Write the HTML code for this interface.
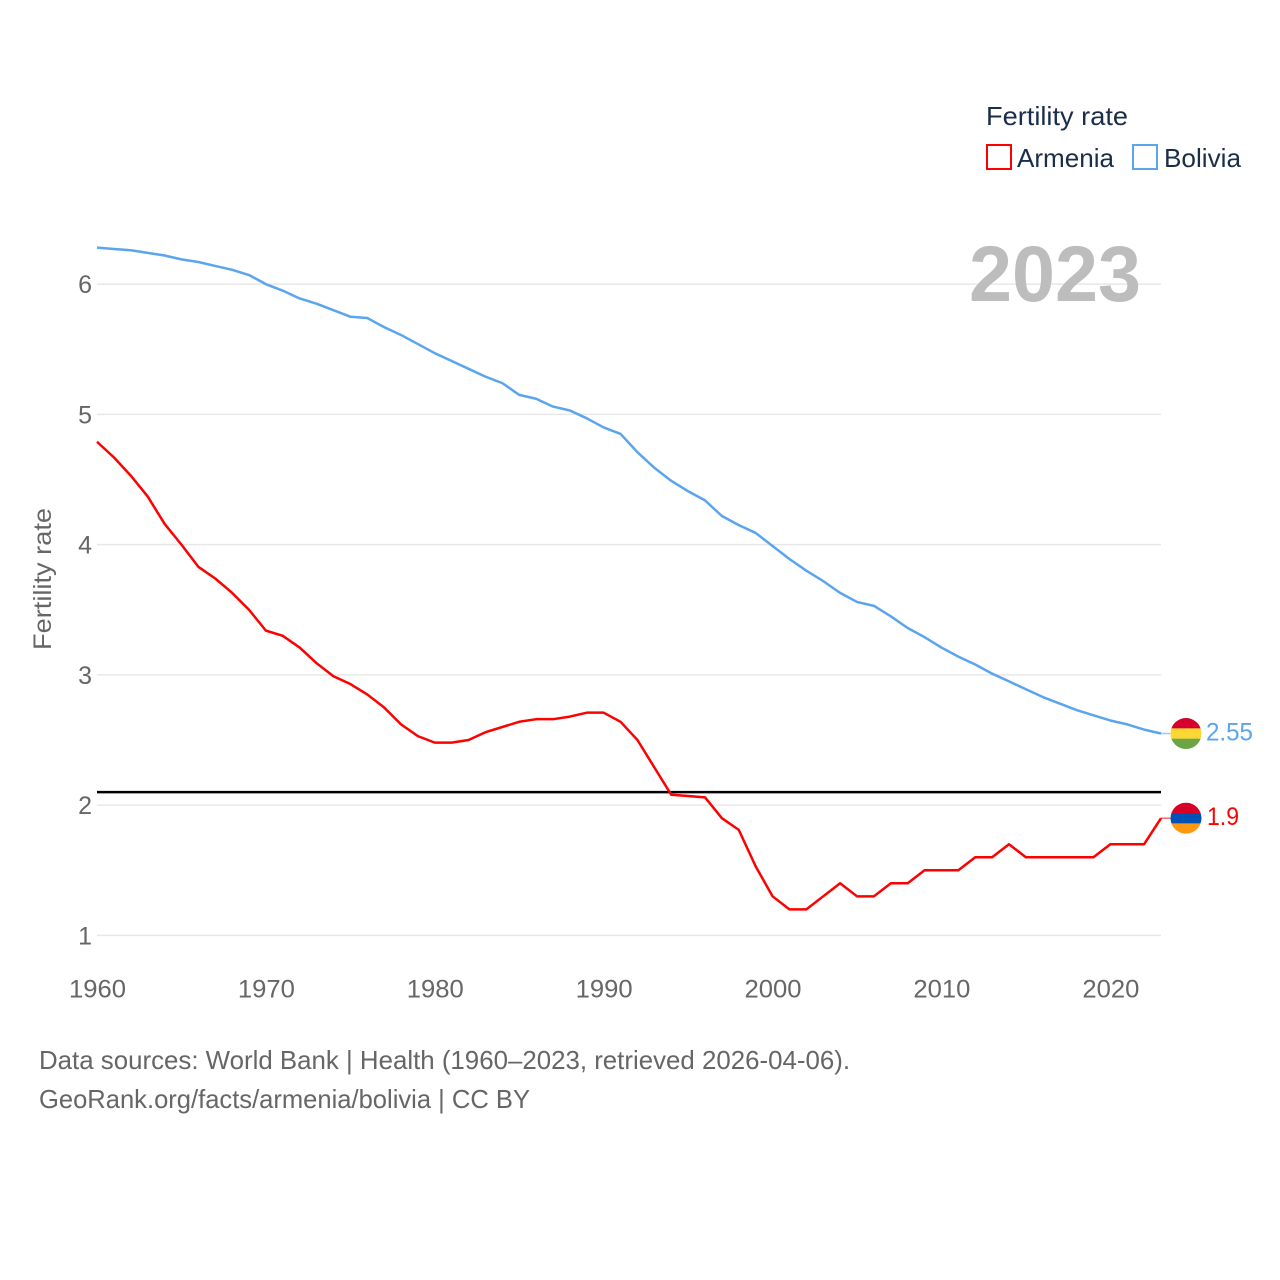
<!DOCTYPE html>
<html>
<head>
<meta charset="utf-8">
<title>Fertility rate: Armenia and Bolivia</title>
<style>
html,body{margin:0;padding:0;background:#fff;}
svg{display:block;font-family:"Liberation Sans",Arial,sans-serif;}
</style>
</head>
<body>
<svg id="chart" width="1280" height="1280" viewBox="0 0 1280 1280" xmlns="http://www.w3.org/2000/svg">
  <rect x="0" y="0" width="1280" height="1280" fill="#ffffff"/>
  <g id="grid"></g>
  <text x="969" y="301" font-size="79" font-weight="700" fill="#bdbdbd" textLength="172" lengthAdjust="spacingAndGlyphs">2023</text>
  <g id="y-ticks"></g>
  <g id="x-ticks"></g>
  <text transform="translate(51,650) rotate(-90)" font-size="25" fill="#666666" textLength="142" lengthAdjust="spacingAndGlyphs">Fertility rate</text>
  <g id="reference"></g>
  <g id="series"></g>
  <defs id="defs"></defs>
  <g id="endpoints"></g>
  <g>
    <text x="986" y="125" font-size="26" fill="#1a2e4a" textLength="142" lengthAdjust="spacingAndGlyphs">Fertility rate</text>
    <rect x="987" y="145" width="24" height="24" fill="#ffffff" stroke="#ff0000" stroke-width="2"/>
    <text x="1017" y="167" font-size="26" fill="#1a2e4a" textLength="97" lengthAdjust="spacingAndGlyphs">Armenia</text>
    <rect x="1133" y="145" width="24" height="24" fill="#ffffff" stroke="#5ba4ee" stroke-width="2"/>
    <text x="1164" y="167" font-size="26" fill="#1a2e4a" textLength="77" lengthAdjust="spacingAndGlyphs">Bolivia</text>
  </g>
  <text x="39" y="1069" font-size="26" fill="#666666" textLength="811" lengthAdjust="spacingAndGlyphs">Data sources: World Bank | Health (1960–2023, retrieved 2026-04-06).</text>
  <text x="39" y="1108" font-size="26" fill="#666666" textLength="491" lengthAdjust="spacingAndGlyphs">GeoRank.org/facts/armenia/bolivia | CC BY</text>
</svg>
<script>
const years = [1960,1961,1962,1963,1964,1965,1966,1967,1968,1969,1970,1971,1972,1973,1974,1975,1976,1977,1978,1979,1980,1981,1982,1983,1984,1985,1986,1987,1988,1989,1990,1991,1992,1993,1994,1995,1996,1997,1998,1999,2000,2001,2002,2003,2004,2005,2006,2007,2008,2009,2010,2011,2012,2013,2014,2015,2016,2017,2018,2019,2020,2021,2022,2023];
const armeniaValues = [4.79,4.67,4.53,4.37,4.16,4.0,3.83,3.74,3.63,3.5,3.34,3.3,3.21,3.09,2.99,2.93,2.85,2.75,2.62,2.53,2.48,2.48,2.5,2.56,2.6,2.64,2.66,2.66,2.68,2.71,2.71,2.64,2.5,2.29,2.08,2.07,2.06,1.9,1.81,1.53,1.3,1.2,1.2,1.3,1.4,1.3,1.3,1.4,1.4,1.5,1.5,1.5,1.6,1.6,1.7,1.6,1.6,1.6,1.6,1.6,1.7,1.7,1.7,1.9];
const boliviaValues = [6.28,6.27,6.26,6.24,6.22,6.19,6.17,6.14,6.11,6.07,6.0,5.95,5.89,5.85,5.8,5.75,5.74,5.67,5.61,5.54,5.47,5.41,5.35,5.29,5.24,5.15,5.12,5.06,5.03,4.97,4.9,4.85,4.71,4.59,4.49,4.41,4.34,4.22,4.15,4.09,3.99,3.89,3.8,3.72,3.63,3.56,3.53,3.45,3.36,3.29,3.21,3.14,3.08,3.01,2.95,2.89,2.83,2.78,2.73,2.69,2.65,2.62,2.58,2.55];
const yTickValues = [1,2,3,4,5,6];
const xTickValues = [1960,1970,1980,1990,2000,2010,2020];
const referenceValue = [2.1];
const armeniaLabel = ['1.9'];
const boliviaLabel = ['2.55'];

const NS = 'http://www.w3.org/2000/svg';
const plotLeft = 97, plotRight = 1161;
function xScale(year){ return plotLeft + (year - 1960) * (plotRight - plotLeft) / (2023 - 1960); }
function yScale(v){ return 935.4 - (v - 1) * 130.25; }
function make(tag, attrs, parent){
  const el = document.createElementNS(NS, tag);
  for (const k in attrs) el.setAttribute(k, attrs[k]);
  parent.appendChild(el);
  return el;
}
const grid = document.getElementById('grid');
const yTicks = document.getElementById('y-ticks');
const xTicks = document.getElementById('x-ticks');
const reference = document.getElementById('reference');
const series = document.getElementById('series');
const endpoints = document.getElementById('endpoints');
const defs = document.getElementById('defs');

yTickValues.forEach(function(v){
  const line = make('line', {x1: plotLeft, x2: plotRight, y1: yScale(v), y2: yScale(v), stroke: '#e8e8e8', 'stroke-width': 1.5}, grid);
  
  
  const t = make('text', {x: 92, y: yScale(v) + 9, 'text-anchor': 'end', 'font-size': 25, fill: '#666666'}, yTicks);
  
  
  t.textContent = v;
});
xTickValues.forEach(function(y){
  const t = make('text', {x: xScale(y) + 0.5, y: 997.5, 'text-anchor': 'middle', 'font-size': 25, fill: '#666666', textLength: 57, lengthAdjust: 'spacingAndGlyphs'}, xTicks);
  
  
  t.textContent = y;
});
const refLine = make('line', {x1: plotLeft, x2: plotRight, y1: yScale(referenceValue[0]), y2: yScale(referenceValue[0]), stroke: '#000000', 'stroke-width': 2.4}, reference);



function pathFor(values){
  return values.map(function(v, i){ return (i ? 'L' : 'M') + xScale(years[i]).toFixed(2) + ' ' + yScale(v).toFixed(2); }).join(' ');
}
const boliviaLine = make('path', {d: pathFor(boliviaValues), fill: 'none', stroke: '#5ba4ee', 'stroke-width': 2.5, 'stroke-linejoin': 'round'}, series);


const armeniaLine = make('path', {d: pathFor(armeniaValues), fill: 'none', stroke: '#ff0000', 'stroke-width': 2.5, 'stroke-linejoin': 'round'}, series);



function drawFlag(id, value, color, bands, label, labelX, labelWidth){
  const cy = yScale(value);
  const cx = 1186, r = 15.5;
  const group = make('g', {}, endpoints);
  
  
  const lead = make('line', {x1: plotRight, x2: cx - r, y1: cy, y2: cy, stroke: color, 'stroke-width': 1.5, opacity: 0.6}, group);
  
  
  const clip = make('clipPath', {id: 'clip-' + id}, defs);
  make('circle', {cx: cx, cy: cy, r: r}, clip);
  const flag = make('g', {'clip-path': 'url(#clip-' + id + ')'}, group);
  
  
  bands.forEach(function(c, i){
    make('rect', {x: cx - r, y: cy - r + i * 10.33, width: 2 * r, height: 10.5, fill: c}, flag);
  });
  const t = make('text', {x: labelX, y: cy + 7, 'font-size': 25, fill: color, textLength: labelWidth, lengthAdjust: 'spacingAndGlyphs'}, group);
  
  
  t.textContent = label;
}
drawFlag('bolivia', boliviaValues[boliviaValues.length - 1], '#5ba4ee', ['#d5002d', '#fdd835', '#6da544'], boliviaLabel[0], 1206, 47);
drawFlag('armenia', armeniaValues[armeniaValues.length - 1], '#ff0000', ['#d80027', '#0052b4', '#ff9811'], armeniaLabel[0], 1207, 32);
</script>
</body>
</html>
